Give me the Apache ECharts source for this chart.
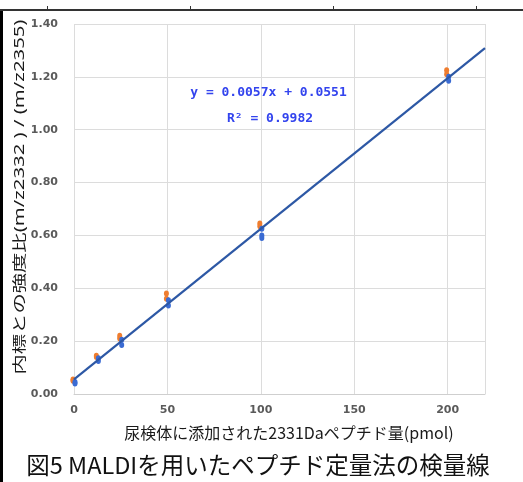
<!DOCTYPE html>
<html>
<head>
<meta charset="utf-8">
<script src="https://cdn.jsdelivr.net/npm/echarts@6/dist/echarts.min.js"></script>
<style>
html,body{margin:0;padding:0;background:#fff;}
#chart{width:523px;height:482px;}
</style>
</head>
<body>
<div id="chart"></div>
<script>
// ---- data ----
const xLevels = [0, 12.5, 25, 50, 100, 200];
const orangeValues = [[0.055, 0.05], [0.145, 0.14], [0.22, 0.21], [0.38, 0.36], [0.645, 0.635], [1.225, 1.21]];
const blueValues = [[0.045, 0.04], [0.135, 0.125], [0.205, 0.185], [0.355, 0.335], [0.625, 0.60, 0.59], [1.20, 1.185]];
const trendX = [0, 220];
const trendY = [0.055, 1.309];
const yTicks = ['0.00', '0.20', '0.40', '0.60', '0.80', '1.00', '1.20', '1.40'];
const xTicks = ['0', '50', '100', '150', '200'];
const equationText = 'y = 0.0057x + 0.0551';
const r2Text = 'R\u00b2 = 0.9982';
const xName = '尿検体に添加された2331Daペプチド量(pmol)';
const yName = '内標との強度比(m/z2332 ) / (m/z2355)';
const caption = '図5 MALDIを用いたペプチド定量法の検量線';

function pairs(vals) {
  const out = [];
  vals.forEach((arr, i) => arr.forEach(v => out.push([xLevels[i], v])));
  return out;
}
const trendData = trendX.map((x, i) => [x, trendY[i]]);

const chart = echarts.init(document.getElementById('chart'), null, {renderer: 'canvas'});
const labelFont = {fontFamily: 'DejaVu Sans', fontWeight: 'bold', fontSize: 11, color: '#5a5a5a'};

chart.setOption({
  animation: false,
  backgroundColor: '#ffffff',
  grid: {left: 74, right: 38, top: 24, bottom: 88, containLabel: false},
  xAxis: {
    type: 'value', min: 0, max: 220, interval: 50,
    axisLine: {show: true, lineStyle: {color: '#cfcfcf', width: 1}},
    axisTick: {show: false},
    splitLine: {show: true, lineStyle: {color: '#dcdcdc', width: 1}},
    axisLabel: Object.assign({margin: 11, showMaxLabel: false,
      formatter: v => { const i = xTicks.indexOf(String(v)); return i >= 0 ? xTicks[i] : ''; }}, labelFont)
  },
  yAxis: {
    type: 'value', min: 0, max: 1.4, interval: 0.2,
    axisLine: {show: false},
    axisTick: {show: false},
    splitLine: {show: true, lineStyle: {color: '#dcdcdc', width: 1}},
    axisLabel: Object.assign({margin: 16,
      formatter: v => yTicks[Math.round(v / 0.2)]}, labelFont)
  },
  series: [
    {
      type: 'scatter', data: pairs(orangeValues), symbol: 'circle', symbolSize: [5, 6],
      symbolOffset: [-1, 0],
      itemStyle: {color: '#ef7d2f', opacity: 1}, z: 2
    },
    {
      type: 'scatter', data: pairs(blueValues), symbol: 'circle', symbolSize: [5, 6],
      symbolOffset: [1, 0],
      itemStyle: {color: '#3a6bd3', opacity: 1}, z: 3
    },
    {
      type: 'line', data: trendData, showSymbol: false, symbol: 'none',
      lineStyle: {color: '#2d58a5', width: 2.2}, z: 4, silent: true
    }
  ],
  graphic: [
    {type: 'rect', shape: {x: 0, y: 10, width: 3, height: 472}, style: {fill: '#000'}, z: 10},
    {type: 'rect', shape: {x: 0, y: 9, width: 523, height: 2}, style: {fill: '#333'}, z: 10},
    {type: 'rect', shape: {x: 47, y: 6, width: 1, height: 4}, style: {fill: '#333'}, z: 10},
    {type: 'rect', shape: {x: 190, y: 6, width: 1, height: 4}, style: {fill: '#333'}, z: 10},
    {type: 'rect', shape: {x: 333, y: 6, width: 1, height: 4}, style: {fill: '#333'}, z: 10},
    {type: 'rect', shape: {x: 476, y: 6, width: 1, height: 4}, style: {fill: '#333'}, z: 10},
    {type: 'text', x: 268.5, y: 93, z: 10,
      style: {text: equationText, fill: '#3344ee', font: 'bold 13px "DejaVu Sans Mono"', align: 'center', verticalAlign: 'middle'}},
    {type: 'text', x: 270, y: 119, z: 10,
      style: {text: r2Text, fill: '#3344ee', font: 'bold 13px "DejaVu Sans Mono"', align: 'center', verticalAlign: 'middle'}},
    {type: 'text', x: 289, y: 433, z: 10,
      style: {text: xName, fill: '#1a1a1a', font: '16px "Noto Sans CJK JP"', align: 'center', verticalAlign: 'middle'}},
    {type: 'text', x: 20, y: 197, rotation: Math.PI / 2, scaleX: 1.45, scaleY: 1, z: 10,
      style: {text: yName, fill: '#1a1a1a', font: '14px "Noto Sans", "Noto Sans CJK JP"', align: 'center', verticalAlign: 'middle'}},
    {type: 'text', x: 258, y: 465, z: 10,
      style: {text: caption, fill: '#111', font: '23.5px "Noto Sans CJK JP"', align: 'center', verticalAlign: 'middle'}}
  ]
});
</script>
</body>
</html>
